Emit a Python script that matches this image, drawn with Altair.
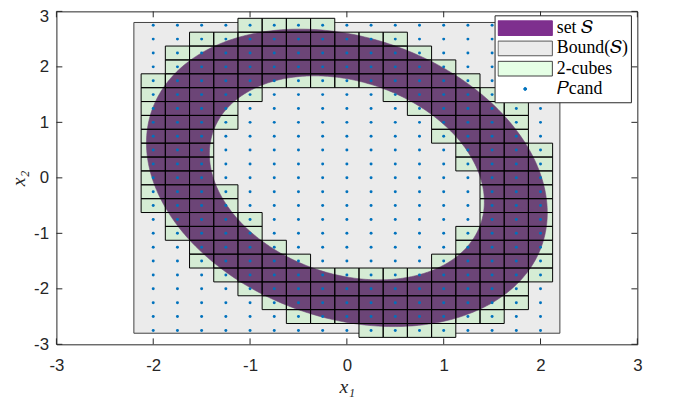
import altair as alt
import numpy as np
import pandas as pd

# ---------------- data ----------------
AX_DOMAIN = [-3, 3]
X_TICKS = [-3, -2, -1, 0, 1, 2, 3]
Y_TICKS = [-3, -2, -1, 0, 1, 2, 3]

# Bound(S): axis-aligned box
BOUND_X = [-2.2, 2.2]
BOUND_Y = [-2.8, 2.8]

# P_cand: candidate grid points
PCAND_X = [-2.0, -1.75, -1.5, -1.25, -1.0, -0.75, -0.5, -0.25, 0.0,
           0.25, 0.5, 0.75, 1.0, 1.25, 1.5, 1.75, 2.0]
PCAND_Y = [-2.75, -2.5, -2.25, -2.0, -1.75, -1.5, -1.25, -1.0, -0.75, -0.5,
           -0.25, 0.0, 0.25, 0.5, 0.75, 1.0, 1.25, 1.5, 1.75, 2.0, 2.25, 2.5, 2.75]

# 2-cubes: side length and, for every row (cube centre y), the runs of cube centres in x
CUBE_SIDE = 0.25
CUBE_ROW_Y = [2.75, 2.5, 2.25, 2.0, 1.75, 1.5, 1.25, 1.0, 0.75, 0.5, 0.25, 0.0,
              -0.25, -0.5, -0.75, -1.0, -1.25, -1.5, -1.75, -2.0, -2.25, -2.5, -2.75]
CUBE_ROW_RUNS = [
    [(-1.0, -0.25)],
    [(-1.5, 0.5)],
    [(-1.75, 0.75)],
    [(-1.75, 1.0)],
    [(-2.0, 1.25)],
    [(-2.0, -1.0), (0.5, 1.5)],
    [(-2.0, -1.25), (0.75, 1.75)],
    [(-2.0, -1.25), (1.0, 1.75)],
    [(-2.0, -1.5), (1.0, 1.75)],
    [(-2.0, -1.5), (1.25, 2.0)],
    [(-2.0, -1.5), (1.25, 2.0)],
    [(-2.0, -1.5), (1.5, 2.0)],
    [(-2.0, -1.25), (1.5, 2.0)],
    [(-2.0, -1.25), (1.5, 2.0)],
    [(-1.75, -1.0), (1.5, 2.0)],
    [(-1.75, -1.0), (1.25, 2.0)],
    [(-1.5, -0.75), (1.25, 2.0)],
    [(-1.5, -0.5), (1.0, 2.0)],
    [(-1.25, 2.0)],
    [(-1.0, 1.75)],
    [(-0.75, 1.75)],
    [(-0.5, 1.5)],
    [(0.25, 1.0)],
]

# set S: elliptical annulus (outer half-extents, tilt correlation, inner/outer ratio)
S_OUTER_HALF_W = 2.07
S_OUTER_HALF_H = 2.68
S_TILT = -0.235
S_INNER_RATIO = 0.686

LEGEND_LABELS = ["set \U0001D446", "Bound(\U0001D446)", "2-cubes", "\U0001D443cand"]

# ---------------- styling ----------------
C_BOUND = "#EBEBEB"
C_BOUND_EDGE = "#404040"
C_CUBE = "#D5ECD4"
C_S = "#6C4577"
C_DOT = "#0072BD"
C_AX = "#262626"
LEG_FILLS = ["#7E2F8E", "#EBEBEB", "#E5FFE5", C_DOT]
LEG_STROKES = ["#7E2F8E", "#555555", "#404040", C_DOT]
RECT_SYM = "M-1,-0.27L1,-0.27L1,0.27L-1,0.27Z"
DOT_SYM = "M-0.055,0A0.055,0.055,0,1,0,0.055,0A0.055,0.055,0,1,0,-0.055,0Z"
LEG_SHAPES = [RECT_SYM, RECT_SYM, RECT_SYM, DOT_SYM]

# ---------------- tables ----------------
bound_df = pd.DataFrame({"x0": [BOUND_X[0]], "x1": [BOUND_X[1]],
                         "y0": [BOUND_Y[0]], "y1": [BOUND_Y[1]]})

pts = [(x, y) for y in PCAND_Y for x in PCAND_X]
pcand_df = pd.DataFrame(pts, columns=["x", "y"])

cells = []
for yc, runs in zip(CUBE_ROW_Y, CUBE_ROW_RUNS):
    for (xa, xb) in runs:
        n = int(round((xb - xa) / CUBE_SIDE)) + 1
        for k in range(n):
            xc = xa + k * CUBE_SIDE
            cells.append((xc - CUBE_SIDE / 2, xc + CUBE_SIDE / 2,
                          yc - CUBE_SIDE / 2, yc + CUBE_SIDE / 2))
cube_df = pd.DataFrame(cells, columns=["x0", "x1", "y0", "y1"])

a, b, r = S_OUTER_HALF_W, S_OUTER_HALF_H, S_TILT
M = np.array([[a * a, r * a * b], [r * a * b, b * b]])
Lc = np.linalg.cholesky(M)
t = np.linspace(0, 2 * np.pi, 361)
u = np.vstack([np.cos(t), np.sin(t)])
outer = Lc @ u
inner = (Lc @ u)[:, ::-1] * S_INNER_RATIO
ring = np.hstack([outer, inner])
s_df = pd.DataFrame({"x": ring[0], "y": ring[1], "i": np.arange(ring.shape[1])})

tick_x_df = pd.DataFrame({"t": X_TICKS})
tick_y_df = pd.DataFrame({"t": Y_TICKS})
leg_df = pd.DataFrame({"label": LEGEND_LABELS})

# ---------------- scales / axes ----------------
XS = alt.Scale(domain=AX_DOMAIN, nice=False, zero=False)
YS = alt.Scale(domain=AX_DOMAIN, nice=False, zero=False)
lab_expr = "datum.value < 0 ? '-' + abs(datum.value) : '' + datum.value"
common_axis = dict(grid=False, ticks=False, tickSize=0, domain=False,
                   labelFont="Liberation Sans", labelFontSize=17, labelColor=C_AX,
                   titleFont="Liberation Serif", titleFontStyle="italic",
                   titleFontWeight="normal", titleFontSize=20, titleColor=C_AX,
                   labelExpr=lab_expr, labelFlush=False)
x_axis = alt.Axis(values=X_TICKS, title="x\u2081", labelPadding=13, titlePadding=4, **common_axis)
y_axis = alt.Axis(values=Y_TICKS, title="x\u2082", labelPadding=8, titlePadding=5,
                  labelOffset={"condition": {"test": "datum.value == 3", "value": 5}, "value": 0},
                  **common_axis)


def X(f, **kw):
    return alt.X(f, scale=XS, axis=x_axis, title="x\u2081", **kw)


def Y(f, **kw):
    return alt.Y(f, scale=YS, axis=y_axis, title="x\u2082", **kw)


bound = alt.Chart(bound_df).mark_rect(fill=C_BOUND, stroke=C_BOUND_EDGE, strokeWidth=1).encode(
    x=X("x0:Q"), x2="x1:Q", y=Y("y0:Q"), y2="y1:Q")

cube_fill = alt.Chart(cube_df).mark_rect(fill=C_CUBE).encode(
    x=X("x0:Q"), x2="x1:Q", y=Y("y0:Q"), y2="y1:Q")

set_s = alt.Chart(s_df).mark_line(fill=C_S, stroke=C_S, strokeWidth=0.6).encode(
    x=X("x:Q"), y=Y("y:Q"), order=alt.Order("i:Q"))

cube_edge = alt.Chart(cube_df).mark_rect(fill="white", fillOpacity=0, stroke="black", strokeWidth=1).encode(
    x=X("x0:Q"), x2="x1:Q", y=Y("y0:Q"), y2="y1:Q")

dots = alt.Chart(pcand_df).mark_circle(color=C_DOT, size=9, opacity=1).encode(
    x=X("x:Q"), y=Y("y:Q"))

tick_b = alt.Chart(tick_x_df).mark_rule(color=C_AX, y2Offset=-6).encode(
    x=X("t:Q"), y=alt.YDatum(AX_DOMAIN[0], scale=YS, axis=y_axis, title="x\u2082"),
    y2=alt.Y2Datum(AX_DOMAIN[0]))
tick_t = alt.Chart(tick_x_df).mark_rule(color=C_AX, y2Offset=6).encode(
    x=X("t:Q"), y=alt.YDatum(AX_DOMAIN[1], scale=YS, axis=y_axis, title="x\u2082"),
    y2=alt.Y2Datum(AX_DOMAIN[1]))
tick_l = alt.Chart(tick_y_df).mark_rule(color=C_AX, x2Offset=6).encode(
    y=Y("t:Q"), x=alt.XDatum(AX_DOMAIN[0], scale=XS, axis=x_axis, title="x\u2081"),
    x2=alt.X2Datum(AX_DOMAIN[0]))
tick_r = alt.Chart(tick_y_df).mark_rule(color=C_AX, x2Offset=-6).encode(
    y=Y("t:Q"), x=alt.XDatum(AX_DOMAIN[1], scale=XS, axis=x_axis, title="x\u2081"),
    x2=alt.X2Datum(AX_DOMAIN[1]))

leg = alt.Legend(title=None, orient="none", legendX=443.5, legendY=4, direction="vertical",
                 fillColor="white", strokeColor=C_AX, padding=3, cornerRadius=0,
                 symbolSize=3025, symbolStrokeWidth=1, symbolOpacity=1,
                 labelFont="Liberation Serif", labelFontSize=18, labelColor="black",
                 labelOffset=4, clipHeight=20, rowPadding=0.5, labelLimit=0)

legend_layer = alt.Chart(leg_df).mark_point(filled=True, opacity=1).encode(
    color=alt.Color("label:N", scale=alt.Scale(domain=LEGEND_LABELS, range=LEG_FILLS), legend=leg),
    shape=alt.Shape("label:N", scale=alt.Scale(domain=LEGEND_LABELS, range=LEG_SHAPES), legend=leg),
    stroke=alt.Stroke("label:N", scale=alt.Scale(domain=LEGEND_LABELS, range=LEG_STROKES), legend=leg),
).transform_filter("false")

chart = alt.layer(bound, cube_fill, set_s, cube_edge, dots, tick_b, tick_t, tick_l, tick_r,
                  legend_layer).properties(
    width=588, height=337,
    autosize=alt.AutoSizeParams(type="none"),
    padding={"left": 49, "top": 1, "right": 28, "bottom": 59},
    background="white",
).configure_view(stroke=C_AX, strokeWidth=1)

chart.save("out.html", embed_options={"renderer": "svg", "actions": False})
